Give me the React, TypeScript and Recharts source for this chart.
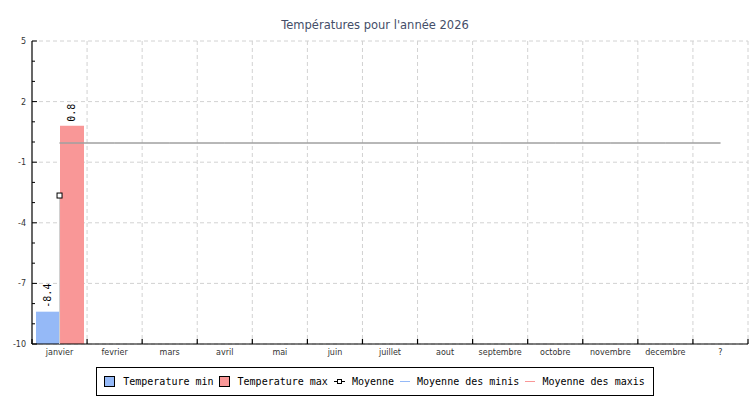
import React from 'react';
import { ComposedChart, Bar, Line, XAxis, YAxis, CartesianGrid, Legend, LabelList } from 'recharts';

const months = ['janvier', 'fevrier', 'mars', 'avril', 'mai', 'juin', 'juillet', 'aout', 'septembre', 'octobre', 'novembre', 'decembre', '?'];
const tempMin: (number | null)[] = [-8.4, null, null, null, null, null, null, null, null, null, null, null, null];
const tempMax: (number | null)[] = [0.8, null, null, null, null, null, null, null, null, null, null, null, null];
const moyenne: (number | null)[] = [-2.65, null, null, null, null, null, null, null, null, null, null, null, null];
const moyMinis: (number | null)[] = [-0.05, -0.05, -0.05, -0.05, -0.05, -0.05, -0.05, -0.05, -0.05, -0.05, -0.05, -0.05, -0.05];
const moyMaxis: (number | null)[] = [-0.05, -0.05, -0.05, -0.05, -0.05, -0.05, -0.05, -0.05, -0.05, -0.05, -0.05, -0.05, -0.05];
const yMajor = [5, 2, -1, -4, -7, -10];
const yAllTicks = [5, 4, 3, 2, 1, 0, -1, -2, -3, -4, -5, -6, -7, -8, -9, -10];
const Y_MAX = 5;
const Y_MIN = -10;

const seriesNames = {
  min: 'Temperature min',
  max: 'Temperature max',
  moy: 'Moyenne',
  moyMin: 'Moyenne des minis',
  moyMax: 'Moyenne des maxis',
};

const W = 750;
const H = 400;
const MARGIN = { top: 41, right: 2, left: 0, bottom: 4 };
const Y_AXIS_W = 32;
const X_AXIS_H = 15;
const LEGEND_H = 37;
const PLOT_W = W - MARGIN.left - MARGIN.right - Y_AXIS_W;
const PLOT_BOTTOM = H - MARGIN.bottom - LEGEND_H - X_AXIS_H;
const BAND = PLOT_W / months.length;

const COLOR_MIN = '#95b9f7';
const COLOR_MAX = '#f99797';
const GRID = '#d2d2d2';
const SANS = '"DejaVu Sans", sans-serif';
const MONO = '"DejaVu Sans Mono", monospace';

const data = months.map((m, i) => ({
  month: m,
  min: tempMin[i],
  max: tempMax[i],
  moy: moyenne[i],
  moyMin: moyMinis[i],
  moyMax: moyMaxis[i],
}));

const XTick = (props: any) => {
  const { x, y, payload, index } = props;
  const left = x - BAND / 2;
  const right = x + BAND / 2;
  return (
    <g>
      <line x1={left} x2={left} y1={y - 5} y2={y} stroke="#000" strokeWidth={1.2} />
      {index === months.length - 1 && (
        <line x1={right} x2={right} y1={y - 5} y2={y} stroke="#000" strokeWidth={1.2} />
      )}
      <text x={x} y={y + 11} textAnchor="middle" fontSize={8} fontFamily={SANS} fill="#333">
        {payload.value}
      </text>
    </g>
  );
};

const YTick = (props: any) => {
  const { x, y, payload } = props;
  const major = yMajor.includes(payload.value);
  return (
    <g>
      <line x1={x} x2={x + (major ? 5 : 3)} y1={y} y2={y} stroke="#000" strokeWidth={1} />
      {major && (
        <text x={x - 6} y={y} dy={3} textAnchor="end" fontSize={8} fontFamily={SANS} fill="#333">
          {payload.value}
        </text>
      )}
    </g>
  );
};

const BarLabel = (props: any) => {
  const { x, y, width, value } = props;
  if (value === null || value === undefined) return null;
  const cx = x + width / 2;
  const ty = y - 4;
  return (
    <text
      x={cx}
      y={ty}
      transform={`rotate(-90 ${cx} ${ty})`}
      textAnchor="start"
      dominantBaseline="central"
      fontSize={10}
      fontFamily={MONO}
      fill="#000"
    >
      {String(value)}
    </text>
  );
};

const MoyDot = (props: any) => {
  const { cx, cy, value } = props;
  if (value === null || value === undefined || cx == null || cy == null) return <g />;
  return (
    <g>
      <line x1={cx} x2={cx} y1={cy + 2.5} y2={PLOT_BOTTOM} stroke="#cfcfcf" strokeWidth={1} />
      <rect x={cx - 2.5} y={cy - 2.5} width={5} height={5} fill="#fff" stroke="#000" strokeWidth={1} />
    </g>
  );
};

const Swatch = ({ color }: { color: string }) => (
  <span style={{ display: 'inline-block', width: 9, height: 9, border: '1px solid #000', background: color, marginRight: 8 }} />
);
const LineSym = ({ color }: { color: string }) => (
  <span style={{ display: 'inline-block', width: 10, height: 1, background: color, marginRight: 7 }} />
);
const MoySym = () => (
  <span style={{ position: 'relative', display: 'inline-block', width: 11, height: 5, marginRight: 7 }}>
    <span style={{ position: 'absolute', left: 0, top: 2, width: 11, height: 1, background: '#000' }} />
    <span style={{ position: 'absolute', left: 3, top: 0, width: 3, height: 3, border: '1px solid #000', background: '#fff' }} />
  </span>
);

const renderLegend = () => (
  <div style={{ height: LEGEND_H, display: 'flex', justifyContent: 'center', alignItems: 'flex-end', width: W }}>
    <div
      style={{
        border: '1px solid #000',
        height: 27,
        display: 'flex',
        alignItems: 'center',
        padding: '0 8px 0 7px',
        fontFamily: MONO,
        fontSize: 10,
        color: '#000',
        background: '#fff',
        whiteSpace: 'nowrap',
      }}
    >
      <span style={{ display: 'flex', alignItems: 'center', marginRight: 5 }}>
        <Swatch color={COLOR_MIN} />
        {seriesNames.min}
      </span>
      <span style={{ display: 'flex', alignItems: 'center', marginRight: 6 }}>
        <Swatch color={COLOR_MAX} />
        {seriesNames.max}
      </span>
      <span style={{ display: 'flex', alignItems: 'center', marginRight: 6 }}>
        <MoySym />
        {seriesNames.moy}
      </span>
      <span style={{ display: 'flex', alignItems: 'center', marginRight: 6 }}>
        <LineSym color={COLOR_MIN} />
        {seriesNames.moyMin}
      </span>
      <span style={{ display: 'flex', alignItems: 'center' }}>
        <LineSym color={COLOR_MAX} />
        {seriesNames.moyMax}
      </span>
    </div>
  </div>
);

export default function App() {
  return (
    <div style={{ position: 'absolute', left: 0, top: 0, width: W, height: H, background: '#fff' }}>
      <div
        style={{
          position: 'absolute',
          top: 17,
          left: 0,
          width: W,
          textAlign: 'center',
          fontFamily: SANS,
          fontSize: 11.5,
          lineHeight: '16px',
          color: '#444e68',
        }}
      >
        Températures pour l'année 2026
      </div>
      <ComposedChart width={W} height={H} data={data} margin={MARGIN} barGap={0} barCategoryGap={3}>
        <CartesianGrid
          stroke={GRID}
          strokeDasharray="4 3"
          verticalCoordinatesGenerator={({ offset }: any) =>
            months.map((_, i) => offset.left + ((i + 1) * offset.width) / months.length)
          }
          horizontalCoordinatesGenerator={({ offset, yAxis }: any) =>
            yMajor.map((v) =>
              yAxis && typeof yAxis.scale === 'function'
                ? yAxis.scale(v)
                : offset.top + ((Y_MAX - v) / (Y_MAX - Y_MIN)) * offset.height
            )
          }
        />
        <XAxis
          dataKey="month"
          height={X_AXIS_H}
          tickLine={false}
          tickSize={0}
          tickMargin={0}
          interval={0}
          axisLine={{ stroke: '#000', strokeWidth: 1.2 }}
          tick={<XTick />}
        />
        <YAxis
          width={Y_AXIS_W}
          domain={[Y_MIN, Y_MAX]}
          ticks={yAllTicks}
          interval={0}
          tickLine={false}
          tickSize={0}
          tickMargin={0}
          allowDataOverflow
          axisLine={{ stroke: '#000', strokeWidth: 1.2 }}
          tick={<YTick />}
        />
        <Legend verticalAlign="bottom" content={renderLegend} wrapperStyle={{ left: 0, width: W }} />
        <Bar
          dataKey={(d: any) => (d.min === null ? null : [Y_MIN, d.min])}
          name={seriesNames.min}
          fill={COLOR_MIN}
          barSize={24}
          isAnimationActive={false}
        >
          <LabelList dataKey="min" content={<BarLabel />} />
        </Bar>
        <Bar
          dataKey={(d: any) => (d.max === null ? null : [Y_MIN, d.max])}
          name={seriesNames.max}
          fill={COLOR_MAX}
          barSize={24}
          isAnimationActive={false}
        >
          <LabelList dataKey="max" content={<BarLabel />} />
        </Bar>
        <Line
          dataKey="moyMin"
          name={seriesNames.moyMin}
          stroke="#a0a0a0"
          strokeWidth={1}
          dot={false}
          isAnimationActive={false}
        />
        <Line
          dataKey="moyMax"
          name={seriesNames.moyMax}
          stroke="#a0a0a0"
          strokeWidth={1}
          dot={false}
          isAnimationActive={false}
        />
        <Line
          dataKey="moy"
          name={seriesNames.moy}
          stroke="#000"
          strokeWidth={1}
          dot={<MoyDot />}
          isAnimationActive={false}
        />
      </ComposedChart>
    </div>
  );
}
